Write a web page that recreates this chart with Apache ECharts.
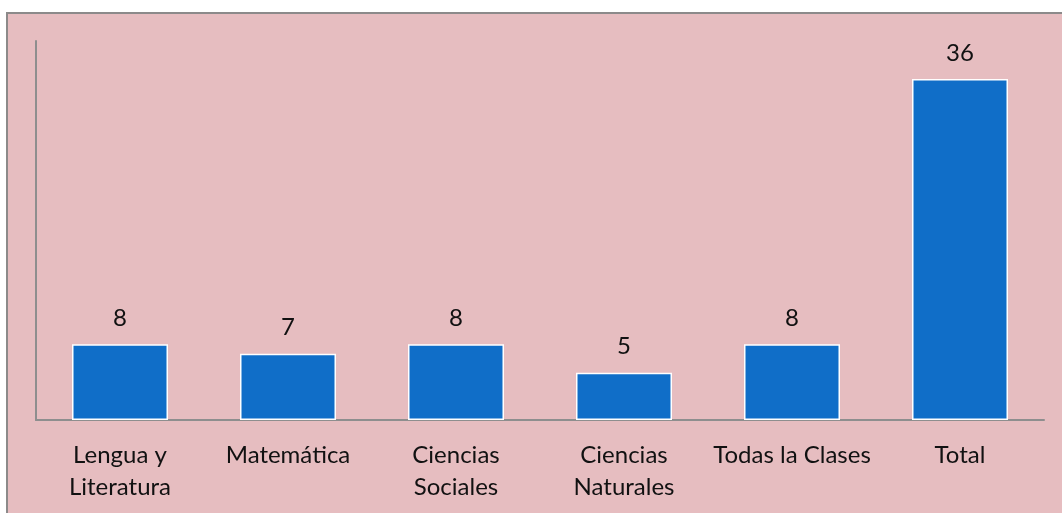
<!DOCTYPE html>
<html>
<head>
<meta charset="utf-8">
<script src="https://cdn.jsdelivr.net/npm/echarts@6/dist/echarts.min.js"></script>
<style>
html,body{margin:0;padding:0;background:#ffffff;}
#chart{width:1062px;height:513px;}
</style>
</head>
<body>
<div id="chart"></div>
<script>
const categories = ["Lengua y\nLiteratura", "Matemática", "Ciencias\nSociales", "Ciencias\nNaturales", "Todas la Clases", "Total"];
const values = [8, 7, 8, 5, 8, 36];

const chart = echarts.init(document.getElementById('chart'), null, {renderer: 'canvas'});
const font = 'Lato, "Open Sans", sans-serif';
chart.setOption({
  animation: false,
  backgroundColor: '#ffffff',
  graphic: [{
    type: 'rect',
    z: -10,
    silent: true,
    shape: {x: 7, y: 13, width: 1100, height: 600},
    style: {fill: '#e6bdc0', stroke: '#8c8a8a', lineWidth: 2}
  }],
  grid: {left: 36, right: 18, top: 41, bottom: 93, containLabel: false},
  xAxis: {
    type: 'category',
    data: categories,
    axisLine: {show: true, lineStyle: {color: '#8e8e8e', width: 2}},
    axisTick: {show: false},
    axisLabel: {
      interval: 0,
      color: '#111111',
      fontFamily: font,
      fontSize: 24,
      lineHeight: 32,
      margin: 19
    }
  },
  yAxis: {
    type: 'value',
    min: 0,
    max: 40,
    interval: 10,
    axisLine: {show: true, lineStyle: {color: '#8e8e8e', width: 2}},
    axisTick: {show: false},
    axisLabel: {show: false},
    splitLine: {show: false}
  },
  series: [{
    type: 'bar',
    data: values,
    barWidth: 96,
    itemStyle: {color: '#106ec8', borderColor: '#ffffff', borderWidth: 1.5},
    label: {
      show: true,
      position: 'top',
      distance: 12,
      color: '#111111',
      fontFamily: font,
      fontSize: 24,
      lineHeight: 28
    }
  }]
});
</script>
</body>
</html>
